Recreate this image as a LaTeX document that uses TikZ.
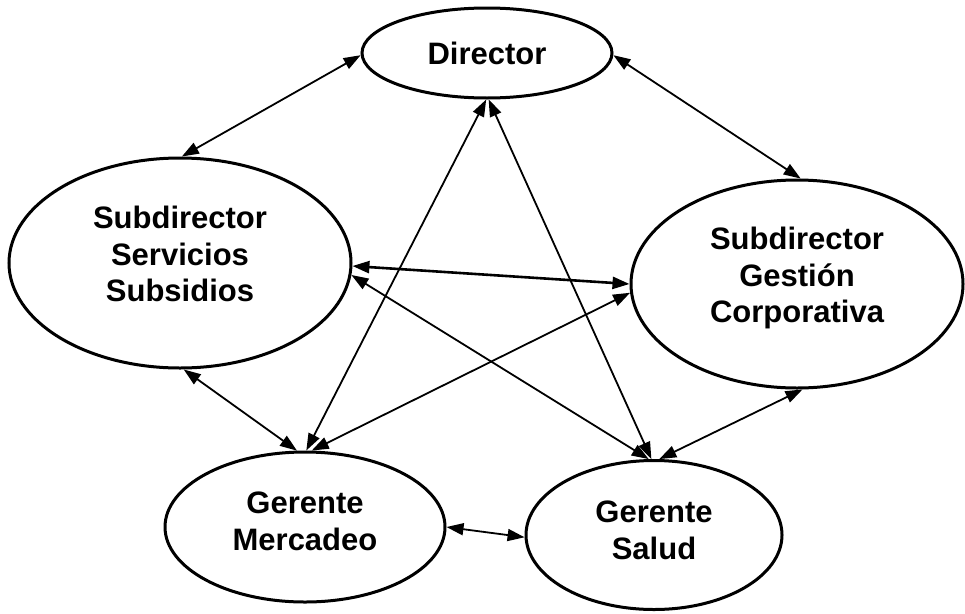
\documentclass[tikz,border=0pt]{standalone}
\usepackage{fontspec}
\setmainfont{Liberation Sans}
\usetikzlibrary{arrows.meta,shapes.geometric}
\begin{document}
\begin{tikzpicture}[x=1pt,y=-1pt,
  role/.style={draw,ellipse,line width=3pt,inner sep=0pt,align=center,
    font=\fontsize{31}{36.7}\selectfont\bfseries},
  link/.style={{Triangle[length=17pt,width=12pt]}-{Triangle[length=17pt,width=12pt]},line width=1.8pt}]
\useasboundingbox (0,0) rectangle (965,613);
\node[role,minimum width=250pt,minimum height=90pt] (dir) at (487,53) {Director};
\node[role,minimum width=342pt,minimum height=210pt] (ss) at (180,263)
  {Subdirector\\Servicios\\Subsidios\rule[-18pt]{0pt}{0pt}};
\node[role,minimum width=332pt,minimum height=208pt] (gc) at (797,284)
  {Subdirector\\Gestión\\Corporativa\rule[-18pt]{0pt}{0pt}};
\node[role,minimum width=280pt,minimum height=150pt] (gm) at (305,527)
  {Gerente\\Mercadeo\rule[-12pt]{0pt}{0pt}};
\node[role,minimum width=256pt,minimum height=149pt] (gs) at (654,535)
  {Gerente\\Salud\rule[-10pt]{0pt}{0pt}};
\draw[link] (dir.181) -- (ss.89);
\draw[link] (dir.-1) -- (gc.88);
\draw[link] (dir.-91) -- (gm.89);
\draw[link] (dir.-88) -- (gs.92);
\draw[link,line width=2.6pt] (ss.-1) -- (gc.180);
\draw[link] (ss.-4) -- (gs.94);
\draw[link] (gc.183) -- (gm.85);
\draw[link] (ss.-88) -- (gm.96);
\draw[link] (gc.-87) -- (gs.86);
\draw[link] (gm.0) -- (gs.181);
\end{tikzpicture}
\end{document}
